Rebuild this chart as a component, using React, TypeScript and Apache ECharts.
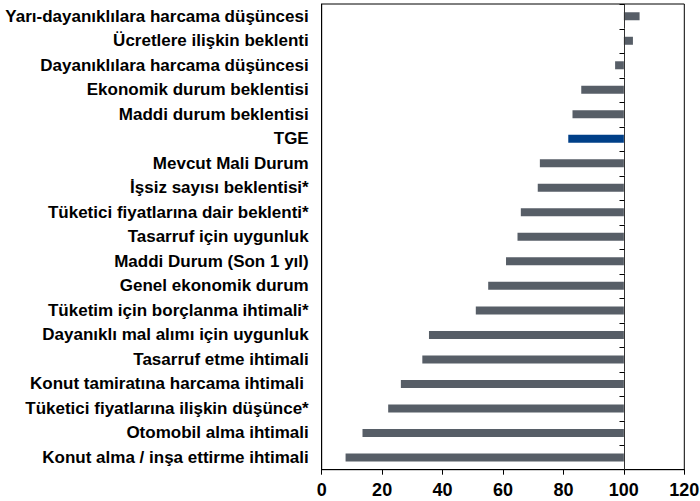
import React, { useEffect, useRef } from "react";
import * as echarts from "echarts";

const categories: string[] = [
  "Yarı-dayanıklılara harcama düşüncesi",
  "Ücretlere ilişkin beklenti",
  "Dayanıklılara harcama düşüncesi",
  "Ekonomik durum beklentisi",
  "Maddi durum beklentisi",
  "TGE",
  "Mevcut Mali Durum",
  "İşsiz sayısı beklentisi*",
  "Tüketici fiyatlarına dair beklenti*",
  "Tasarruf için uygunluk",
  "Maddi Durum (Son 1 yıl)",
  "Genel ekonomik durum",
  "Tüketim için borçlanma ihtimali*",
  "Dayanıklı mal alımı için uygunluk",
  "Tasarruf etme ihtimali",
  "Konut tamiratına harcama ihtimali ",
  "Tüketici fiyatlarına ilişkin düşünce*",
  "Otomobil alma ihtimali",
  "Konut alma / inşa ettirme ihtimali",
];

const values: number[] = [
  105.2, 103, 97.1, 85.9, 83, 81.6, 72.2, 71.5, 65.9, 64.8, 61, 55.1, 51, 35.5,
  33.3, 26.2, 22, 13.5, 7.9,
];

const baseline = 100;
const xTicks = { min: 0, max: 120, interval: 20 };
const highlight = "TGE";

const FONT = "'Liberation Sans', Arial, sans-serif";

export default function App() {
  const ref = useRef<HTMLDivElement>(null);

  useEffect(() => {
    if (!ref.current) return;
    const chart = echarts.init(ref.current, undefined, { renderer: "svg" });

    const baseData = values.map((v) => Math.min(v, baseline));
    const deltaData = values.map((v, i) => ({
      value: Math.abs(v - baseline),
      itemStyle: { color: categories[i] === highlight ? "#003f88" : "#575e67" },
    }));
    const axisData = categories.map((_, i) => [baseline, i]);

    chart.setOption({
      animation: false,
      backgroundColor: "#ffffff",
      textStyle: { fontFamily: FONT, fontWeight: "bold" },
      grid: {
        left: 321.7,
        right: 15.7,
        top: 4,
        bottom: 31.3,
        containLabel: false,
        outerBoundsMode: "none",
        show: true,
        borderColor: "#000000",
        borderWidth: 1,
        backgroundColor: "transparent",
      },
      xAxis: {
        type: "value",
        min: xTicks.min,
        max: xTicks.max,
        interval: xTicks.interval,
        axisLine: { show: true, lineStyle: { color: "#000000", width: 1 } },
        axisTick: { show: true, length: 5, lineStyle: { color: "#000000" } },
        splitLine: { show: false },
        axisLabel: {
          color: "#000000",
          fontWeight: "bold",
          fontSize: 18,
          fontFamily: FONT,
          margin: 11,
          hideOverlap: false,
        },
      },
      yAxis: {
        type: "category",
        data: categories,
        inverse: true,
        position: "left",
        axisLine: { show: true, lineStyle: { color: "#000000", width: 1 } },
        axisTick: { show: false },
        splitLine: { show: false },
        axisLabel: {
          color: "#000000",
          fontWeight: "bold",
          fontSize: 17,
          fontFamily: FONT,
          margin: 13,
        },
      },
      series: [
        {
          type: "bar",
          name: "base",
          stack: "total",
          barWidth: 8,
          silent: true,
          itemStyle: { color: "transparent" },
          data: baseData,
        },
        {
          type: "bar",
          name: "value",
          stack: "total",
          barWidth: 8,
          data: deltaData,
        },
        {
          type: "custom",
          name: "baselineAxis",
          silent: true,
          z: 10,
          encode: { x: 0, y: 1 },
          data: axisData,
          renderItem: (params: any, api: any) => {
            const p = api.coord([api.value(0), api.value(1)]);
            const band = api.size([0, 1])[1];
            const top = p[1] - band / 2;
            const bottom = p[1] + band / 2;
            const x = Math.round(p[0]) + 0.5;
            const yt = Math.round(top) + 0.5;
            return {
              type: "group",
              children: [
                {
                  type: "line",
                  shape: { x1: x, y1: top, x2: x, y2: bottom },
                  style: { stroke: "#333333", lineWidth: 1 },
                },
                {
                  type: "line",
                  shape: { x1: x - 5, y1: yt, x2: x, y2: yt },
                  style: { stroke: "#000000", lineWidth: 1 },
                },
              ],
            };
          },
        },
      ],
    });

    return () => chart.dispose();
  }, []);

  return (
    <div
      ref={ref}
      style={{ position: "fixed", left: 0, top: 0, width: 700, height: 501 }}
    />
  );
}
